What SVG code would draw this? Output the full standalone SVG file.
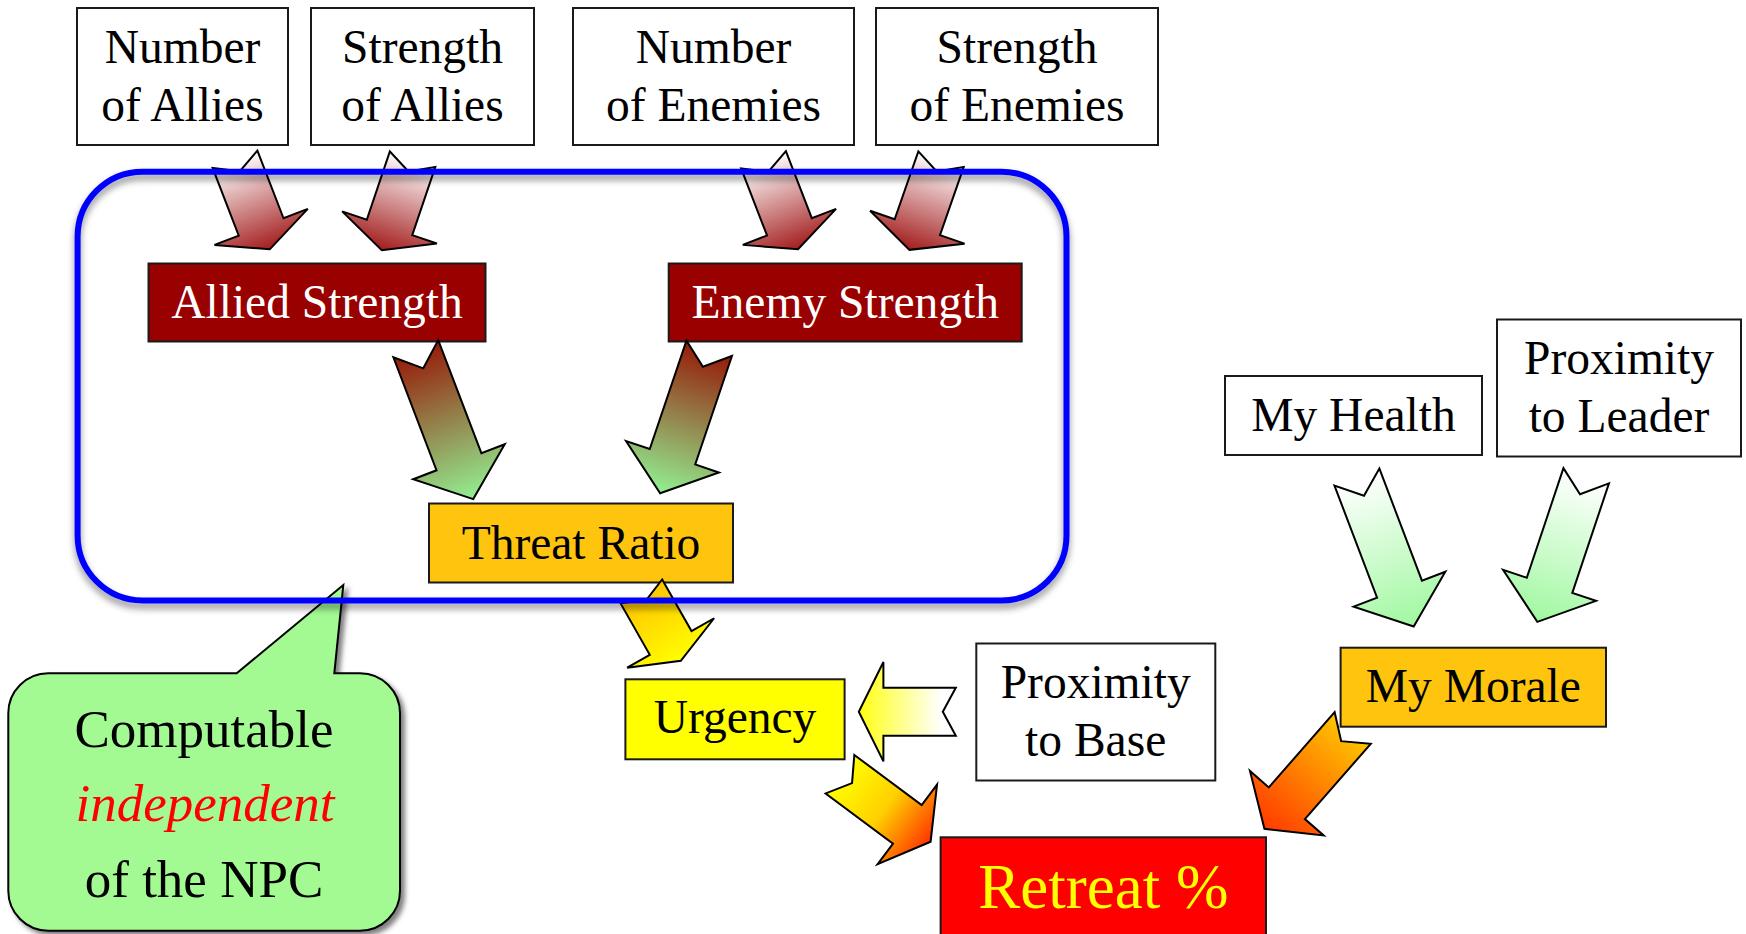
<svg xmlns="http://www.w3.org/2000/svg" width="1746" height="934" viewBox="0 0 1746 934">
  <style>
    .box { stroke: #1a1a1a; stroke-width: 2; }
    .plain { fill: #ffffff; }
    .dark { fill: #990000; }
    .gold { fill: #fec40e; }
    .yel { fill: #ffff00; }
    .red { fill: #ff0000; }
    .t { font-family: "Liberation Serif", "Times New Roman", serif; font-size: 47.5px; text-anchor: middle; fill: #000; }
    .w { fill: #ffffff; }
    .arrow { stroke: #000; stroke-width: 2; stroke-linejoin: miter; }
    .note { font-family: "Liberation Serif", "Times New Roman", serif; font-size: 53px; text-anchor: middle; fill: #000; }
  </style>
  <defs>
    <linearGradient id="gWhiteRed" x1="0" y1="0.5" x2="1" y2="0.5">
      <stop offset="0" stop-color="#ffffff"/>
      <stop offset="1" stop-color="#a31d1d"/>
    </linearGradient>
    <linearGradient id="gRedGreen" x1="0" y1="0.5" x2="1" y2="0.5">
      <stop offset="0" stop-color="#961a08"/>
      <stop offset="1" stop-color="#92f092"/>
    </linearGradient>
    <linearGradient id="gWhiteGreen" x1="0" y1="0.5" x2="1" y2="0.5">
      <stop offset="0" stop-color="#ffffff"/>
      <stop offset="1" stop-color="#a0f8a0"/>
    </linearGradient>
    <linearGradient id="gGoldYellow" x1="0" y1="0.5" x2="1" y2="0.5">
      <stop offset="0" stop-color="#ffc400"/>
      <stop offset="1" stop-color="#ffff00"/>
    </linearGradient>
    <linearGradient id="gWhiteYellow" x1="0" y1="0.5" x2="1" y2="0.5">
      <stop offset="0" stop-color="#ffffff"/>
      <stop offset="0.15" stop-color="#ffffff"/>
      <stop offset="1" stop-color="#ffff10"/>
    </linearGradient>
    <linearGradient id="gYellowRed" x1="0" y1="0.5" x2="1" y2="0.5">
      <stop offset="0" stop-color="#ffff00"/>
      <stop offset="0.5" stop-color="#ffd000"/>
      <stop offset="1" stop-color="#ff3300"/>
    </linearGradient>
    <linearGradient id="gOrangeRed" x1="0" y1="0.5" x2="1" y2="0.5">
      <stop offset="0" stop-color="#ffc600"/>
      <stop offset="1" stop-color="#ff3a00"/>
    </linearGradient>
    <filter id="frameShadow" x="-5%" y="-5%" width="110%" height="115%">
      <feDropShadow dx="0" dy="5" stdDeviation="3.5" flood-color="#000" flood-opacity="0.45"/>
    </filter>
    <filter id="noteShadow" x="-5%" y="-5%" width="115%" height="115%">
      <feDropShadow dx="4" dy="4" stdDeviation="2.5" flood-color="#000" flood-opacity="0.5"/>
    </filter>
  </defs>

  <rect width="1746" height="934" fill="#ffffff"/>

  <!-- input boxes -->
  <g id="number-of-allies">
    <rect class="box plain" x="77" y="8" width="211" height="137"/>
    <text class="t" x="182.5" y="62.7">Number</text>
    <text class="t" x="182.5" y="120.7">of Allies</text>
  </g>
  <g id="strength-of-allies">
    <rect class="box plain" x="311" y="8" width="223" height="137"/>
    <text class="t" x="422.5" y="62.7">Strength</text>
    <text class="t" x="422.5" y="120.7">of Allies</text>
  </g>
  <g id="number-of-enemies">
    <rect class="box plain" x="573" y="8" width="281" height="137"/>
    <text class="t" x="713.5" y="62.7">Number</text>
    <text class="t" x="713.5" y="120.7">of Enemies</text>
  </g>
  <g id="strength-of-enemies">
    <rect class="box plain" x="876" y="8" width="282" height="137"/>
    <text class="t" x="1017" y="62.7">Strength</text>
    <text class="t" x="1017" y="120.7">of Enemies</text>
  </g>

  <!-- derived values -->
  <g id="allied-strength">
    <rect class="box dark" x="148.5" y="263.5" width="337" height="78"/>
    <text class="t w" x="317" y="318.3">Allied Strength</text>
  </g>
  <g id="enemy-strength">
    <rect class="box dark" x="668.7" y="263.5" width="353" height="78"/>
    <text class="t w" x="845.3" y="318.3">Enemy Strength</text>
  </g>
  <g id="threat-ratio">
    <rect class="box gold" x="429" y="503.5" width="304" height="79"/>
    <text class="t" x="581" y="558.5">Threat Ratio</text>
  </g>
  <g id="urgency">
    <rect class="box yel" x="625.4" y="679.3" width="219.2" height="80"/>
    <text class="t" x="735" y="733.3">Urgency</text>
  </g>
  <g id="proximity-to-base">
    <rect class="box plain" x="976.3" y="643.5" width="239" height="137"/>
    <text class="t" x="1095.7" y="697.7">Proximity</text>
    <text class="t" x="1095.7" y="755.7">to Base</text>
  </g>
  <g id="retreat">
    <rect class="box red" x="940.6" y="837.3" width="325.4" height="110"/>
    <text class="t" x="1103.3" y="908.3" style="font-size:63px;fill:#ffff00">Retreat %</text>
  </g>
  <g id="my-health">
    <rect class="box plain" x="1225" y="376" width="257" height="79"/>
    <text class="t" x="1353.5" y="431">My Health</text>
  </g>
  <g id="proximity-to-leader">
    <rect class="box plain" x="1497" y="319.5" width="244" height="137"/>
    <text class="t" x="1619" y="374">Proximity</text>
    <text class="t" x="1619" y="431.7">to Leader</text>
  </g>
  <g id="my-morale">
    <rect class="box gold" x="1340.6" y="647.7" width="265.4" height="79"/>
    <text class="t" x="1473.3" y="701.7">My Morale</text>
  </g>

  <!-- notched block arrows: tail centre at the origin, pointing along +x -->
  <g id="connectors">
    <polygon class="arrow" fill="url(#gWhiteRed)" transform="translate(235,159.2) rotate(68.9)"
      points="0,-24 72.6,-24 72.6,-50 96.6,0 72.6,50 72.6,24 0,24 13,0"/>
    <polygon class="arrow" fill="url(#gWhiteRed)" transform="translate(412.6,159.2) rotate(108.7)"
      points="0,-24 72,-24 72,-50 96,0 72,50 72,24 0,24 13,0"/>
    <polygon class="arrow" fill="url(#gWhiteRed)" transform="translate(763.5,159.7) rotate(68.9)"
      points="0,-24 72,-24 72,-50 96,0 72,50 72,24 0,24 13,0"/>
    <polygon class="arrow" fill="url(#gWhiteRed)" transform="translate(941,159.2) rotate(109.2)"
      points="0,-24 72,-24 72,-50 96,0 72,50 72,24 0,24 13,0"/>
    <polygon class="arrow" fill="url(#gRedGreen)" transform="translate(415.8,348.7) rotate(69.1)"
      points="0,-24 121,-24 121,-49 161,0 121,49 121,24 0,24 21,0"/>
    <polygon class="arrow" fill="url(#gRedGreen)" transform="translate(709.2,348.3) rotate(108.7)"
      points="0,-24 114.5,-24 114.5,-49 153,0 114.5,49 114.5,24 0,24 19.5,0"/>
    <polygon class="arrow" fill="url(#gGoldYellow)" transform="translate(641.3,591.3) rotate(60.4)"
      points="0,-24 59.4,-24 59.4,-50 80,0 59.4,50 59.4,24 0,24 10,0"/>
    <polygon class="arrow" fill="url(#gWhiteYellow)" transform="translate(955.8,711.7) rotate(180)"
      points="0,-24 72.4,-24 72.4,-49.7 97,0 72.4,49.7 72.4,24 0,24 13,0"/>
    <polygon class="arrow" fill="url(#gYellowRed)" transform="translate(840,774.2) rotate(36.7)"
      points="0,-24 84,-24 84,-49.7 113,0 84,49.7 84,24 0,24 15,0"/>
    <polygon class="arrow" fill="url(#gOrangeRed)" transform="translate(1352.7,728) rotate(131.2)"
      points="0,-24 100,-24 100,-49 134,0 100,49 100,24 0,24 17.5,0"/>
    <polygon class="arrow" fill="url(#gWhiteGreen)" transform="translate(1356.9,477) rotate(69.2)"
      points="0,-24 120,-24 120,-49 160,0 120,49 120,24 0,24 20,0"/>
    <polygon class="arrow" fill="url(#gWhiteGreen)" transform="translate(1586.2,475.8) rotate(108.5)"
      points="0,-24 115.5,-24 115.5,-49 154,0 115.5,49 115.5,24 0,24 19.5,0"/>
  </g>

  <!-- speech bubble -->
  <g id="callout">
    <path d="M 48.3,673.3 L 236.7,673.3 L 343.3,585 L 334.3,673.3 L 360,673.3 A 40,40 0 0 1 400,713.3 L 400,890.7 A 40,40 0 0 1 360,930.7 L 48.3,930.7 A 40,40 0 0 1 8.3,890.7 L 8.3,713.3 A 40,40 0 0 1 48.3,673.3 Z"
      fill="#a3fa93" stroke="#000" stroke-width="2" filter="url(#noteShadow)"/>
    <text class="note" x="204" y="746.7">Computable</text>
    <text class="note" x="205" y="820.7" style="font-style:italic;fill:#ff0000">independent</text>
    <text class="note" x="204" y="897.3">of the NPC</text>
  </g>

  <!-- NPC-independent region -->
  <g id="npc-independent-frame">
    <rect x="77.6" y="171.7" width="988.9" height="428.8" rx="65" ry="65"
      fill="none" stroke="#0000ff" stroke-width="6" filter="url(#frameShadow)"/>
  </g>
</svg>
